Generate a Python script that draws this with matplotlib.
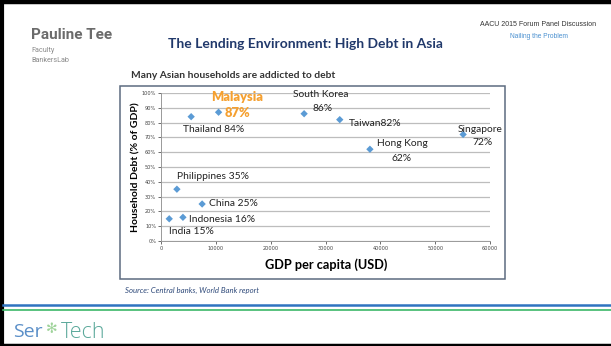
import matplotlib
matplotlib.use("Agg")
import matplotlib.pyplot as plt
from matplotlib.patches import Rectangle
from matplotlib.lines import Line2D

# ---- data ----
countries = ["India", "Indonesia", "China", "Philippines", "Thailand", "Malaysia",
             "South Korea", "Taiwan", "Hong Kong", "Singapore"]
gdp_per_capita = [1500, 4000, 7500, 2900, 5500, 10500, 26100, 32600, 38100, 55100]
household_debt = [15, 16, 25, 35, 84, 87, 86, 82, 62, 72]
x_ticks = [0, 10000, 20000, 30000, 40000, 50000, 60000]
y_ticks = [0, 10, 20, 30, 40, 50, 60, 70, 80, 90, 100]

# label layout: (text, dx_px, dy_px)
label_layout = {
    "India": [("India 15%", 0, -13)],
    "Indonesia": [("Indonesia 16%", 6, -2)],
    "China": [("China 25%", 7, 0)],
    "Philippines": [("Philippines 35%", 0, 13)],
    "Thailand": [("Thailand 84%", -8, -13)],
    "Malaysia": [("Malaysia", -7, 15), ("87%", 6, -1)],
    "South Korea": [("South Korea", -11, 19), ("86%", 8, 5)],
    "Taiwan": [("Taiwan82%", 9, -4)],
    "Hong Kong": [("Hong Kong", 7, 6), ("62%", 22, -9)],
    "Singapore": [("Singapore", -5, 5), ("72%", 9, -8)],
}

W, H = 611, 346
fig = plt.figure(figsize=(W / 100, H / 100), dpi=100)
fig.patch.set_facecolor("white")

def fx(px):
    return px / W

def fy(py):
    return 1 - py / H

FONT = ["Lato", "DejaVu Sans"]

# slide border (top/left/bottom black)
fig.add_artist(Line2D([0, 1], [fy(2), fy(2)], color="black", lw=3.2, transform=fig.transFigure))
fig.add_artist(Line2D([fx(1.5), fx(1.5)], [0, 1], color="black", lw=3.0, transform=fig.transFigure))
fig.add_artist(Line2D([0, 1], [fy(344.5), fy(344.5)], color="black", lw=2.5, transform=fig.transFigure))

# header
fig.text(fx(31), fy(35), "Pauline Tee", fontsize=11, fontweight="bold", color="#6b6b6b",
         family=["Roboto", "DejaVu Sans"], ha="left", va="center")
fig.text(fx(31), fy(50), "Faculty", fontsize=5.2, color="#8a8a8a",
         family=["Roboto", "DejaVu Sans"], ha="left", va="center")
fig.text(fx(31), fy(60), "BankersLab", fontsize=5.2, color="#8a8a8a",
         family=["Roboto", "DejaVu Sans"], ha="left", va="center")
fig.text(fx(305), fy(44), "The Lending Environment: High Debt in Asia", fontsize=10,
         fontweight="bold", color="#21396b", family=FONT, ha="center", va="center")
fig.text(fx(538), fy(24), "AACU 2015 Forum Panel Discussion", fontsize=5.0, color="#333333",
         family=["Liberation Sans", "DejaVu Sans"], ha="center", va="center")
fig.text(fx(539), fy(36), "Nailing the Problem", fontsize=4.8, color="#4a90d0",
         family=["Liberation Sans", "DejaVu Sans"], ha="center", va="center")

# chart frame
fig.add_artist(Rectangle((fx(120), fy(279)), fx(505) - fx(120), fy(86) - fy(279),
                         fill=False, edgecolor="#5d6b80", lw=1.1, transform=fig.transFigure))
fig.text(fx(131), fy(76), "Many Asian households are addicted to debt", fontsize=7.4,
         fontweight="bold", color="#333333", family=FONT, ha="left", va="center")

# axes
ax = fig.add_axes([fx(161), fy(241), fx(490) - fx(161), fy(93) - fy(241)])
ax.set_facecolor("none")
ax.scatter(gdp_per_capita, household_debt, marker="D", s=14, color="#5b9bd5",
           edgecolors="none", zorder=3)
ax.set_xlim(0, 60000)
ax.set_ylim(0, 100)
ax.set_xticks(x_ticks)
ax.set_xticklabels([str(v) for v in x_ticks])
ax.set_yticks(y_ticks)
ax.set_yticklabels([f"{v}%" for v in y_ticks])
ax.tick_params(axis="both", labelsize=3.6, colors="#555555", length=2, width=0.6, pad=1.5)
ax.tick_params(axis="both", labelcolor="#444444")
ax.yaxis.grid(True, color="#bdbdbd", lw=0.9)
ax.set_axisbelow(True)
for s in ["top", "right"]:
    ax.spines[s].set_visible(False)
for s in ["left", "bottom"]:
    ax.spines[s].set_color("#999999")
    ax.spines[s].set_linewidth(0.7)

for name, gx, hy in zip(countries, gdp_per_capita, household_debt):
    for txt, dx, dy in label_layout[name]:
        if name == "Malaysia":
            ax.annotate(txt, (gx, hy), xytext=(dx, dy), textcoords="offset pixels",
                        fontsize=9.3, fontweight="heavy", color="#f5a030", family=FONT,
                        ha="left", va="center")
        else:
            ax.annotate(txt, (gx, hy), xytext=(dx, dy), textcoords="offset pixels",
                        fontsize=7.4, color="#222222", family=FONT,
                        ha="left", va="center")

fig.text(fx(136), fy(167), "Household Debt (% of GDP)", fontsize=7.5, fontweight="bold",
         rotation=90, color="black", family=FONT, ha="center", va="center")
fig.text(fx(326), fy(265), "GDP per capita (USD)", fontsize=9.2, fontweight="bold",
         color="black", family=FONT, ha="center", va="center")

fig.text(fx(125), fy(290), "Source: Central banks, World Bank report", fontsize=5.6,
         style="italic", color="#2f4a7a", family=FONT, ha="left", va="center")

# footer lines
fig.add_artist(Line2D([fx(3), 1], [fy(305), fy(305)], color="#2f74c0", lw=1.8, transform=fig.transFigure))
fig.add_artist(Line2D([fx(3), 1], [fy(309.5), fy(309.5)], color="#3cb868", lw=1.2, transform=fig.transFigure))

# logo
fig.text(fx(13), fy(332), "Ser", fontsize=14, color="#5b8fc8", family=["Open Sans", "DejaVu Sans"],
         ha="left", va="center")
fig.text(fx(52), fy(329), "\u273b", fontsize=10, color="#9fd39a", family=["DejaVu Sans"],
         ha="center", va="center")
fig.text(fx(61), fy(332), "Tech", fontsize=15.5, color="#5aa89a", family=["Open Sans", "DejaVu Sans"],
         ha="left", va="center", fontweight="light")

fig.savefig("out.png", dpi=100, facecolor="white")
